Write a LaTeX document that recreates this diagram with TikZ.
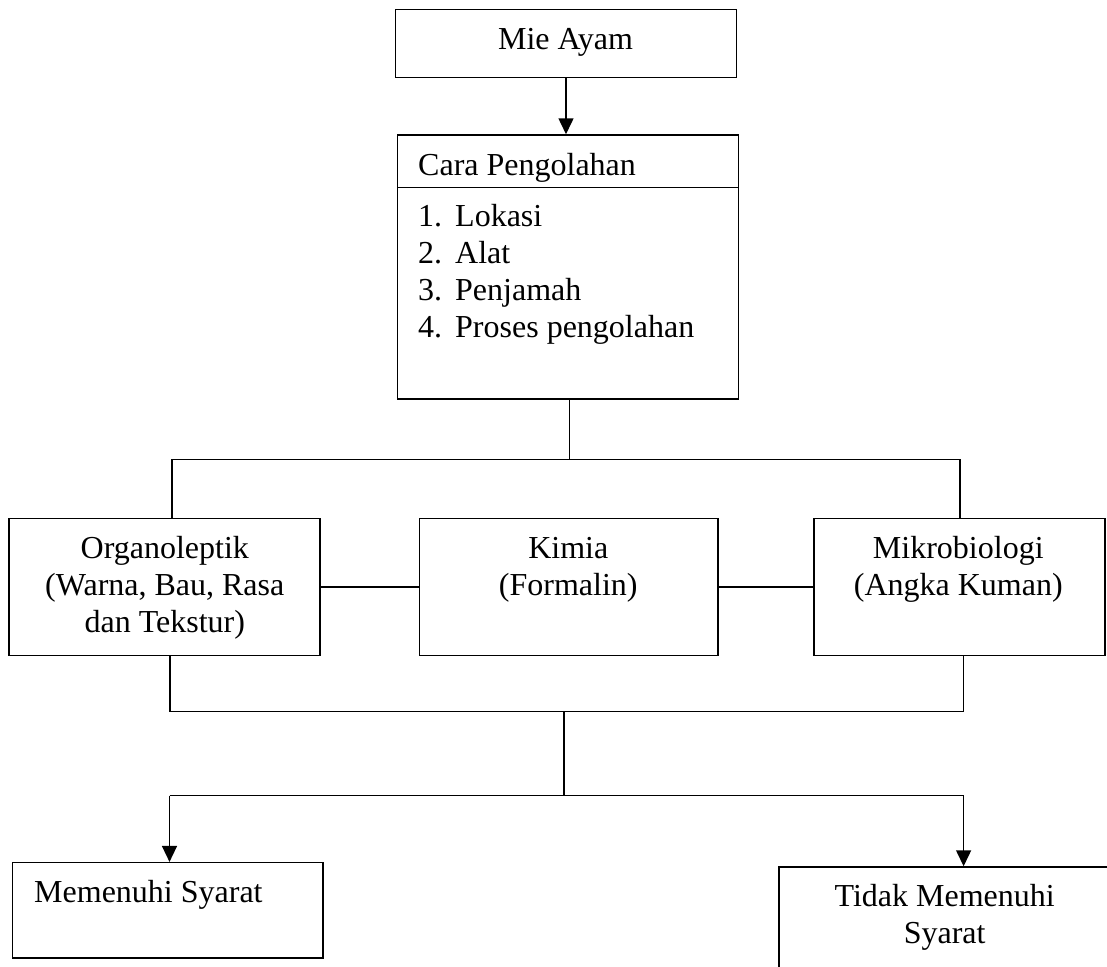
\documentclass[tikz,border=0pt]{standalone}
\usepackage{fontspec}
\setmainfont{Liberation Serif}
\usetikzlibrary{arrows.meta}
\begin{document}
\begin{tikzpicture}[x=1pt,y=-1pt,
  box/.style={draw,line width=1.5pt,rectangle,inner sep=0pt},
  conn/.style={line width=1.1pt},
  arr/.style={line width=1.5pt,-{Triangle[length=16pt,width=15pt]}},
  txt/.style={inner sep=0pt,font=\fontsize{32}{37}\selectfont}]
\clip (0,0) rectangle (1107,966);
% boxes
\node[box,minimum width=341pt,minimum height=68pt] (mie) at (566,43.5) {};
\node[box,minimum width=341pt,minimum height=264pt] (cara) at (568,267) {};
\coordinate (divL) at (397.5,187.3);
\coordinate (divR) at (738.5,187.3);
\draw[line width=1.5pt] (divL) -- (divR);
\node[box,minimum width=310.6pt,minimum height=137pt] (org) at (164.5,587) {};
\node[box,minimum width=298.7pt,minimum height=137pt] (kim) at (568.6,587) {};
\node[box,minimum width=291pt,minimum height=137pt] (mik) at (959.5,587) {};
\node[box,minimum width=310.3pt,minimum height=95.3pt] (mem) at (167.8,910.3) {};
\node[box,minimum width=340pt,minimum height=130pt] (tid) at (949,932) {};
% texts
\node[txt,anchor=base] (tmie) at (565.5,50) {Mie Ayam};
\node[txt,anchor=base west] (tcara) at (418,175) {Cara Pengolahan};
\node[txt,anchor=base west] (tlist) at (418,226.7) {\begin{tabular}[t]{@{}l@{}}\makebox[37pt][l]{1.}Lokasi\\\makebox[37pt][l]{2.}Alat\\\makebox[37pt][l]{3.}Penjamah\\\makebox[37pt][l]{4.}Proses pengolahan\end{tabular}};
\node[txt,anchor=base] (torg) at (164.8,558) {\begin{tabular}[t]{@{}c@{}}Organoleptik\\(Warna, Bau, Rasa\\dan Tekstur)\end{tabular}};
\node[txt,anchor=base] (tkim) at (568.3,558) {\begin{tabular}[t]{@{}c@{}}Kimia\\(Formalin)\end{tabular}};
\node[txt,anchor=base] (tmik) at (958.3,558) {\begin{tabular}[t]{@{}c@{}}Mikrobiologi\\(Angka Kuman)\end{tabular}};
\node[txt,anchor=base west] (tmem) at (34,902.7) {Memenuhi Syarat};
\node[txt,anchor=base] (ttid) at (944.7,906) {\begin{tabular}[t]{@{}c@{}}Tidak Memenuhi\\Syarat\end{tabular}};
% connector coordinates
\coordinate (j1) at (569.7,459.3);
\coordinate (j1L) at (172,459.3);
\coordinate (j1R) at (960,459.3);
\coordinate (j2L) at (170,711.7);
\coordinate (j2R) at (963.6,711.7);
\coordinate (j2) at (564,711.7);
\coordinate (j3) at (564,795.5);
\coordinate (j3L) at (169.5,795.5);
\coordinate (j3R) at (963.6,795.5);
% connectors
\draw[arr] (mie.south) -- (mie.south |- cara.north);
\draw[conn] (cara.south -| j1) -- (j1);
\draw[conn] (j1L) -- (j1R);
\draw[conn] (j1L) -- (j1L |- org.north);
\draw[conn] (j1R) -- (j1R |- mik.north);
\draw[conn] (org.east) -- (kim.west);
\draw[conn] (kim.east) -- (mik.west);
\draw[conn] (org.south -| j2L) -- (j2L);
\draw[conn] (mik.south -| j2R) -- (j2R);
\draw[conn] (j2L) -- (j2R);
\draw[conn] (j2) -- (j3);
\draw[conn] (j3L) -- (j3R);
\draw[arr] (j3L) -- (j3L |- mem.north);
\draw[arr] (j3R) -- (j3R |- tid.north);
\end{tikzpicture}
\end{document}
